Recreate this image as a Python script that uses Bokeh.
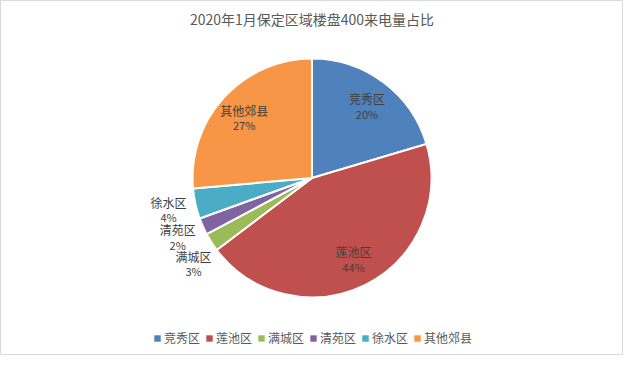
import math
from bokeh.plotting import figure
from bokeh.models import ColumnDataSource, Range1d, Legend, LegendItem
from bokeh.core.properties import value
from bokeh.embed import file_html
from bokeh.resources import INLINE

title = "2020年1月保定区域楼盘400来电量占比"
categories = ["竞秀区", "莲池区", "满城区", "清苑区", "徐水区", "其他郊县"]
shares = [20.4, 44.3, 2.5, 2.3, 4.1, 26.4]
pct_labels = ["20%", "44%", "3%", "2%", "4%", "27%"]
colors = ["#4F81BD", "#C0504D", "#9BBB59", "#8064A2", "#4BACC6", "#F79646"]

FONT = "Noto Sans CJK SC"
W, H = 639, 371          # reference chart coordinate space
CW, CH = W - 16, H - 16  # canvas size
cx, cy, R = 319.5, H - 185.5, 122.5

total = sum(shares)
starts, ends, lx, ly, outside = [], [], [], [], []
cum = 0.0
RO = 1.23 * R
for s in shares:
    a0 = math.pi / 2 - cum / total * 2 * math.pi
    cum += s
    a1 = math.pi / 2 - cum / total * 2 * math.pi
    starts.append(a0)
    ends.append(a1)
    mid = (a0 + a1) / 2
    out = s < 5
    r = RO if out else 0.77 * R
    lx.append(cx + r * math.cos(mid))
    ly.append(cy + r * math.sin(mid))
    outside.append(out)

# simple collision avoidance for outside labels (left side, top to bottom)
idx = sorted([i for i in range(len(shares)) if outside[i]], key=lambda i: -ly[i])
min_gap = 28
for a, b in zip(idx, idx[1:]):
    if ly[a] - ly[b] < min_gap:
        ly[b] = ly[a] - min_gap
        dy = ly[b] - cy
        lx[b] = cx - math.sqrt(max(RO * RO - dy * dy, 0))

src = ColumnDataSource(dict(cat=categories, pct=pct_labels, color=colors,
                            start=starts, end=ends, lx=lx, ly=ly))

p = figure(width=CW, height=CH, output_backend="svg", toolbar_location=None,
           x_range=Range1d(0, W), y_range=Range1d(0, H), min_border=0)
p.axis.visible = False
p.grid.visible = False
p.outline_line_color = "#D9D9D9"
p.background_fill_color = "white"

p.wedge(x=cx, y=cy, radius=R, start_angle="start", end_angle="end", direction="clock",
        fill_color="color", line_color="white", line_width=2, source=src)

p.text(x="lx", y="ly", text="cat", y_offset=-7, text_align="center", text_baseline="middle",
       text_font=value(FONT), text_font_size="12px", text_color="#404040", source=src)
p.text(x="lx", y="ly", text="pct", y_offset=8, text_align="center", text_baseline="middle",
       text_font=value(FONT), text_font_size="11px", text_color="#404040", source=src)

p.text(x=[cx], y=[H - 19], text=[title], text_align="center", text_baseline="middle",
       text_font=value(FONT), text_font_size="14px", text_color="#595959")

items = []
nan = float("nan")
for c, col in zip(categories, colors):
    r = p.quad(left=[nan], right=[nan], top=[nan], bottom=[nan],
               fill_color=col, line_color=None)
    items.append(LegendItem(label=c, renderers=[r]))
legend = Legend(items=items, orientation="horizontal", location=(153, 9),
                label_text_font=FONT, label_text_font_size="12px", label_text_color="#595959",
                glyph_width=8, glyph_height=8, label_standoff=3, spacing=5, padding=0,
                border_line_alpha=0, background_fill_alpha=0, label_height=14)
p.add_layout(legend, "center")

open("out.html", "w").write(file_html(p, INLINE))
